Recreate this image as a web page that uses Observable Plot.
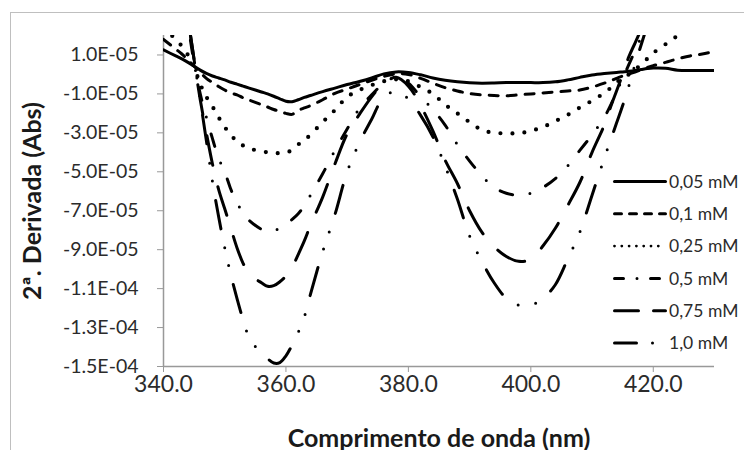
<!DOCTYPE html>
<html>
<head>
<meta charset="utf-8">
<script src="https://cdn.jsdelivr.net/npm/d3@7"></script>
<script src="https://cdn.jsdelivr.net/npm/@observablehq/plot@0.6"></script>
<style>
  body { margin: 0; background: #fff; }
  #wrap { position: relative; width: 744px; height: 450px; overflow: hidden; font-family: Lato, sans-serif; }
  #frame { position: absolute; left: 10px; top: 12px; width: 800px; height: 500px; border: 1px solid #bfbfbf; box-sizing: border-box; }
  #chart { position: absolute; left: 0; top: 0; }
  #legend { position: absolute; left: 0; top: 0; pointer-events: none; }
</style>
</head>
<body>
<div id="wrap">
  <div id="frame"></div>
  <div id="chart"></div>
  <svg id="legend" width="744" height="450"></svg>
</div>
<script>
// Wavelength grid (nm)
const wavelength = [340,342,343,344,345,346,347,348,349,350,351,352,353,354,356,357,358,359,360,361,362,363,364,366,368,370,372,374,376,378,380,382,384,386,388,390,392,394,396,398,400,402,404,406,408,410,412,413,414,415,416,417,418,419,420,422,424,426,428,430];

// Second-derivative values, in units of 1E-05 Abs
const d005 = [1.26,0.95,0.8,0.62,0.42,0.22,0.05,-0.08,-0.18,-0.28,-0.4,-0.5,-0.6,-0.7,-0.9,-1.0,-1.12,-1.25,-1.38,-1.4,-1.3,-1.18,-1.08,-0.88,-0.7,-0.52,-0.36,-0.18,0.03,0.13,0.1,-0.02,-0.18,-0.3,-0.38,-0.43,-0.45,-0.44,-0.42,-0.42,-0.42,-0.42,-0.38,-0.28,-0.15,-0.03,0.05,0.08,0.1,0.13,0.16,0.2,0.25,0.3,0.33,0.32,0.22,0.2,0.2,0.2];
const d010 = [1.8,1.3,1.05,0.75,0.42,0.1,-0.2,-0.42,-0.62,-0.8,-0.95,-1.05,-1.2,-1.32,-1.55,-1.67,-1.8,-1.9,-2.0,-2.05,-1.85,-1.72,-1.6,-1.3,-0.97,-0.75,-0.52,-0.3,-0.1,0.03,0.0,-0.2,-0.45,-0.68,-0.85,-0.98,-1.05,-1.08,-1.1,-1.05,-1.0,-0.95,-0.9,-0.85,-0.8,-0.65,-0.45,-0.33,-0.2,-0.08,0.02,0.12,0.25,0.35,0.45,0.62,0.8,0.95,1.05,1.18];
const d025 = [2.4,1.8,1.45,1.0,0.4,-0.5,-1.15,-1.65,-2.2,-2.7,-3.1,-3.45,-3.65,-3.8,-3.95,-4.0,-4.04,-4.04,-4.02,-3.88,-3.6,-3.38,-3.1,-2.45,-1.83,-1.16,-0.8,-0.55,-0.35,-0.25,-0.35,-0.65,-1.0,-1.55,-2.0,-2.45,-2.85,-3.0,-3.02,-3.02,-2.9,-2.7,-2.4,-2.08,-1.7,-1.35,-0.95,-0.7,-0.4,-0.2,0.0,0.25,0.5,0.8,1.1,1.55,2.0,2.5,3.0,3.5];
const d050 = [9.0,7.0,5.0,2.6,0.6,-1.0,-2.2,-3.3,-4.3,-5.0,-5.9,-6.6,-7.1,-7.5,-7.95,-8.05,-8.02,-7.9,-7.72,-7.45,-7.15,-6.75,-6.2,-5.1,-3.9,-2.8,-1.75,-1.05,-0.45,-0.15,-0.45,-1.15,-1.8,-2.6,-3.6,-4.45,-5.2,-5.8,-6.1,-6.2,-6.1,-5.8,-5.35,-4.7,-3.9,-3.1,-2.2,-1.6,-0.9,-0.2,0.5,1.2,1.9,2.6,3.3,4.5,5.5,6.5,7.5,8.5];
const d075 = [10.0,7.5,5.2,2.9,0.75,-1.3,-3.0,-4.6,-5.9,-6.9,-7.9,-8.9,-9.7,-10.25,-10.7,-10.88,-10.85,-10.65,-10.35,-9.9,-9.25,-8.55,-7.75,-6.3,-4.6,-3.05,-2.05,-1.15,-0.45,-0.15,-0.6,-1.6,-2.9,-4.4,-5.6,-7.0,-8.1,-8.85,-9.35,-9.6,-9.5,-8.8,-7.9,-6.75,-5.55,-4.0,-2.6,-1.7,-0.85,0.0,0.9,1.6,2.3,3.0,3.8,5.0,6.0,7.0,8.0,9.0];
const d100 = [11.0,8.0,5.3,2.9,0.75,-1.3,-3.4,-5.5,-7.3,-8.9,-10.3,-11.5,-12.6,-13.5,-14.35,-14.6,-14.82,-14.8,-14.45,-13.9,-13.25,-12.45,-11.3,-9.1,-7.2,-5.0,-3.5,-2.3,-1.15,-0.88,-1.25,-2.1,-3.2,-4.7,-6.4,-8.3,-9.6,-10.7,-11.5,-11.85,-11.85,-11.5,-10.8,-9.5,-8.1,-6.2,-4.3,-3.4,-2.5,-1.6,-0.6,0.5,1.5,2.5,3.5,5.0,6.0,7.0,8.0,9.0];

const seriesNames = ["0,05 mM","0,1 mM","0,25 mM","0,5 mM","0,75 mM","1,0 mM"];
const seriesValues = [d005, d010, d025, d050, d075, d100];

// Axis ticks
const xTicks = [340, 360, 380, 400, 420];
const yTicks = [1e-5, -1e-5, -3e-5, -5e-5, -7e-5, -9e-5, -1.1e-4, -1.3e-4, -1.5e-4];

// Line styles (chart and legend)
const chartDash = [null, "9,9", "0,12", "13,17.5,0,17.5", "30,22", "29,19.5,0,18,0,19.5"];
const chartWidth = [3, 3, 4.2, 3, 3, 3];
const legendDash = [null, "7,8", "0,7.3", "9,13.5,0,13.5", "24,15", "22,16,0,40"];
const legendWidth = [3, 3, 2.8, 3, 3, 3];

const fmtE = d => {
  const [m, e] = d.toExponential(1).split("e");
  const n = +e;
  return m + "E" + (n < 0 ? "-" : "+") + String(Math.abs(n)).padStart(2, "0");
};

const lines = seriesValues.map((vals, k) =>
  Plot.line(wavelength.map((w, i) => ({w, v: vals[i] * 1e-5})), {
    x: "w", y: "v", stroke: "#000", strokeWidth: chartWidth[k],
    strokeDasharray: chartDash[k] || undefined,
    strokeLinecap: "round", strokeLinejoin: "round",
    curve: "catmull-rom", clip: true
  })
);

const chart = Plot.plot({
  width: 744, height: 450,
  marginLeft: 163, marginRight: 30, marginTop: 35, marginBottom: 84,
  style: {fontFamily: "Lato, sans-serif", fontSize: "22px", background: "transparent", overflow: "visible"},
  x: {domain: [340, 430]},
  y: {domain: [-1.5e-4, 2e-5]},
  marks: [
    Plot.axisX({ticks: xTicks, tickFormat: d => d.toFixed(1), tickSize: 6, tickPadding: 3, stroke: "#999", fill: "#2b2b2b", fontSize: 23, label: null}),
    Plot.axisY({ticks: yTicks, tickFormat: fmtE, tickSize: 6, tickPadding: 19, stroke: "#999", fill: "#2b2b2b", fontSize: 19.5, label: null}),
    Plot.ruleX([340], {stroke: "#999", strokeWidth: 1.5}),
    Plot.ruleY([-1.5e-4], {stroke: "#999", strokeWidth: 1.5}),
    ...lines,
    Plot.text(["Comprimento de onda (nm)"], {frameAnchor: "bottom", dy: 72, textAnchor: "middle", lineAnchor: "middle", fontWeight: "bold", fontSize: 25, fill: "#1a1a1a"}),
    Plot.text(["2ª. Derivada (Abs)"], {frameAnchor: "left", dx: -131, textAnchor: "middle", lineAnchor: "middle", rotate: -90, fontWeight: "bold", fontSize: 25, fill: "#1a1a1a"})
  ]
});
document.getElementById("chart").appendChild(chart);

// Legend
const lg = d3.select("#legend");
const legendTop = 181.5, legendStep = 32.3, lx0 = 613, lx1 = 667, tx = 669;
seriesNames.forEach((name, k) => {
  const y = legendTop + k * legendStep;
  lg.append("line").attr("x1", lx0 + 1.5).attr("x2", lx1 - 1.5).attr("y1", y).attr("y2", y)
    .attr("stroke", "#000").attr("stroke-width", legendWidth[k])
    .attr("stroke-linecap", "round")
    .attr("stroke-dasharray", legendDash[k]);
  lg.append("text").attr("x", tx).attr("y", y).attr("dy", "0.35em")
    .attr("font-family", "Lato, sans-serif").attr("font-size", 17.5).attr("fill", "#2b2b2b")
    .text(name);
});
</script>
</body>
</html>
